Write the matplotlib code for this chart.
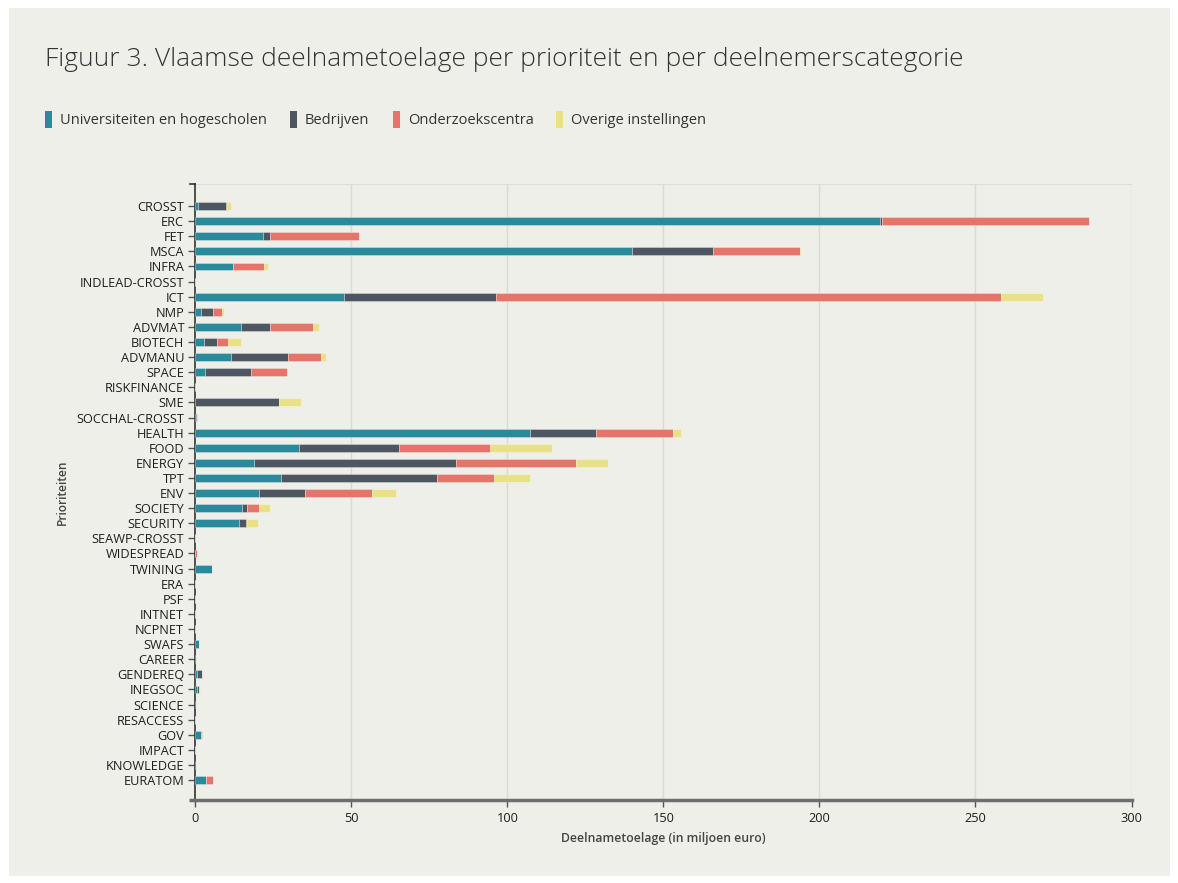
import matplotlib
matplotlib.use("Agg")
import matplotlib.pyplot as plt
from matplotlib.patches import Rectangle
import numpy as np

categories = ["CROSST", "ERC", "FET", "MSCA", "INFRA", "INDLEAD-CROSST", "ICT", "NMP",
              "ADVMAT", "BIOTECH", "ADVMANU", "SPACE", "RISKFINANCE", "SME",
              "SOCCHAL-CROSST", "HEALTH", "FOOD", "ENERGY", "TPT", "ENV", "SOCIETY",
              "SECURITY", "SEAWP-CROSST", "WIDESPREAD", "TWINING", "ERA", "PSF",
              "INTNET", "NCPNET", "SWAFS", "CAREER", "GENDEREQ", "INEGSOC", "SCIENCE",
              "RESACCESS", "GOV", "IMPACT", "KNOWLEDGE", "EURATOM"]

universiteiten = [0.75, 219.5, 21.7, 139.9, 12.0, 0, 47.8, 1.9,
                  14.6, 2.9, 11.6, 3.2, 0, 0,
                  0.1, 107.3, 33.2, 18.7, 27.5, 20.3, 14.85,
                  13.9, 0, 0, 5.3, 0, 0,
                  0, 0, 1.07, 0.3, 0.4, 0.4, 0.3,
                  0, 1.8, 0, 0.1, 3.3]
bedrijven = [9.15, 0.5, 2.1, 26.0, 0.2, 0, 48.6, 3.8,
             9.4, 4.0, 18.0, 14.6, 0, 26.9,
             0.5, 21.2, 32.2, 64.8, 49.9, 14.7, 1.75,
             2.4, 0, 0, 0, 0, 0,
             0, 0, 0, 0, 1.8, 0.65, 0,
             0, 0, 0, 0, 0]
onderzoekscentra = [0.35, 66.4, 28.6, 28.0, 9.8, 0, 161.9, 2.95,
                    13.6, 3.6, 10.8, 11.5, 0, 0,
                    0, 24.5, 29.1, 38.6, 18.4, 21.6, 3.7,
                    0.4, 0, 0.4, 0, 0, 0,
                    0, 0, 0, 0, 0, 0, 0,
                    0, 0.45, 0, 0, 2.5]
overige = [1.2, 0, 0, 0.2, 1.4, 0, 13.4, 0.65,
           1.9, 4.2, 1.4, 0, 0, 6.9,
           0, 2.6, 19.8, 10.0, 11.6, 7.7, 3.7,
           3.3, 0, 0, 0, 0, 0,
           0, 0, 0, 0, 0, 0.3, 0,
           0, 0, 0, 0.2, 0]

series_names = ["Universiteiten en hogescholen", "Bedrijven", "Onderzoekscentra",
                "Overige instellingen"]
x_ticks = [0, 50, 100, 150, 200, 250, 300]

colors = ["#2A899B", "#4E5662", "#E5756A", "#E8E188"]
bg = "#EFEFEA"
FONT = ["Open Sans", "DejaVu Sans"]
plt.rcParams["font.family"] = FONT

W, H = 1178, 883
fig = plt.figure(figsize=(W / 100, H / 100), dpi=100)
fig.patch.set_facecolor("white")
fig.patches.append(Rectangle((9 / W, 1 - 876 / H), (1170 - 9) / W, (876 - 8) / H,
                             transform=fig.transFigure, facecolor=bg, edgecolor="none",
                             zorder=-10))

left, right, top, bottom = 195.3, 1131.5, 184.3, 800
ax = fig.add_axes([left / W, 1 - bottom / H, (right - left) / W, (bottom - top) / H])
ax.set_facecolor(bg)

y = np.arange(len(categories))
series = [universiteiten, bedrijven, onderzoekscentra, overige]
base = np.zeros(len(categories))
for vals, c in zip(series, colors):
    v = np.array(vals, dtype=float)
    ax.barh(y, v, left=base, height=0.52, color=c, edgecolor=(1, 1, 1, 0.35),
            linewidth=0.6, zorder=3)
    base += v

ax.set_xlim(0, 300)
ax.set_ylim(len(categories) - 1 + 1.32, -1.44)
ax.set_yticks(y)
ax.set_yticklabels(categories, fontsize=9.2, color="#1E1E1E")
ax.set_xticks(x_ticks)
ax.set_xticklabels([str(t) for t in x_ticks], fontsize=9.2, color="#1E1E1E")

for t in x_ticks[1:]:
    ax.axvline(t, color="#D9D9D5", linewidth=1, zorder=1)
ax.axhline(-1.44, color="#D9D9D5", linewidth=1.2, zorder=1)

for s in ["top", "right"]:
    ax.spines[s].set_visible(False)
ax.spines["left"].set_color("#333333")
ax.spines["left"].set_linewidth(1.2)
ax.spines["bottom"].set_color("#6E6E6E")
ax.spines["bottom"].set_linewidth(2.5)
ax.tick_params(axis="y", length=5, width=1, color="#555555", pad=3)
ax.tick_params(axis="x", length=5, width=1, color="#555555", pad=4)

# outer ticks of the axis domains
ax.plot([-1.6, 0], [-1.44, -1.44], color="#333333", linewidth=1.2, clip_on=False, zorder=5)
ax.plot([-1.9, 0], [38 + 1.32, 38 + 1.32], color="#6E6E6E", linewidth=2.5,
        clip_on=False, zorder=5, solid_capstyle="butt")

ax.set_xlabel("Deelnametoelage (in miljoen euro)", fontsize=8.8, color="#444444",
              fontweight="semibold", labelpad=5)
fig.text(62 / W, 1 - 492 / H, "Prioriteiten", rotation=90, fontsize=8.6,
         color="#444444", fontweight="semibold", ha="center", va="center")

fig.text(45 / W, 1 - 60 / H, "Figuur 3. Vlaamse deelnametoelage per prioriteit en per deelnemerscategorie",
         fontsize=19, color="#333333", ha="left", va="center", fontweight="light")

leg_x = [45, 290, 393, 556]
for name, c, lx in zip(series_names, colors, leg_x):
    fig.patches.append(Rectangle((lx / W, 1 - 128 / H), 7 / W, 17 / H,
                                 transform=fig.transFigure, facecolor=c, edgecolor="none"))
    fig.text((lx + 15) / W, 1 - 120 / H, name, fontsize=10.5, color="#333333",
             ha="left", va="center")

fig.savefig("out.png", dpi=100, facecolor=fig.get_facecolor())
